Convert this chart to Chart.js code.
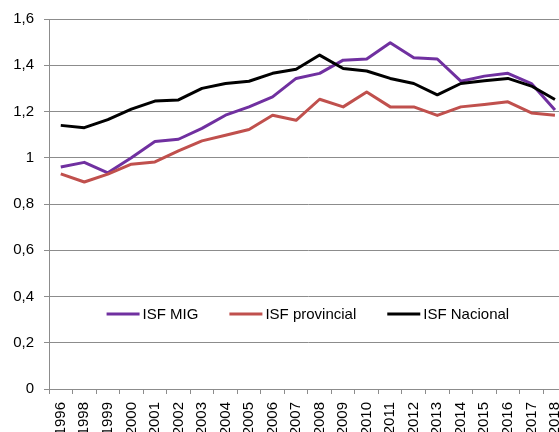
<!DOCTYPE html>
<html>
<head>
<meta charset="utf-8">
<script src="https://cdn.jsdelivr.net/npm/chart.js@4"></script>
<style>
  html, body { margin: 0; padding: 0; background: #fff; overflow: hidden; }
  #wrap { width: 581px; height: 440px; }
</style>
</head>
<body>
<div id="wrap"><canvas id="isf" width="581" height="440"></canvas></div>
<script>
// ISF series (1997 is missing in the source)
var years = ['1996', '1998', '1999', '2000', '2001', '2002', '2003', '2004', '2005', '2006', '2007',
             '2008', '2009', '2010', '2011', '2012', '2013', '2014', '2015', '2016', '2017', '2018'];
var isfMig = [0.96, 0.98, 0.935, 1.0, 1.07, 1.08, 1.127, 1.184, 1.22, 1.263, 1.343,
              1.365, 1.422, 1.427, 1.497, 1.432, 1.427, 1.331, 1.353, 1.365, 1.321, 1.206];
var isfProvincial = [0.93, 0.895, 0.929, 0.972, 0.982, 1.03, 1.073, 1.097, 1.122, 1.184, 1.162,
                     1.253, 1.22, 1.284, 1.22, 1.22, 1.183, 1.22, 1.23, 1.242, 1.194, 1.184];
var isfNacional = [1.14, 1.13, 1.165, 1.21, 1.245, 1.25, 1.30, 1.321, 1.331, 1.365, 1.383,
                   1.444, 1.386, 1.375, 1.343, 1.321, 1.272, 1.321, 1.333, 1.343, 1.31, 1.252];
var yTicks = [0, 0.2, 0.4, 0.6, 0.8, 1, 1.2, 1.4, 1.6];

var FONT = "'Liberation Sans', Arial, sans-serif";
var GRID = '#8c8c8c';

/* legend drawn inside the plot, one row, centred on the chart area */
var innerLegend = {
  id: 'innerLegend',
  afterDatasetsDraw: function (chart) {
    var ctx = chart.ctx, area = chart.chartArea;
    var sets = chart.data.datasets;
    var lineW = 33, gap = 3, spacing = 31;
    ctx.save();
    ctx.font = '15px ' + FONT;
    var widths = sets.map(function (ds) { return lineW + gap + ctx.measureText(ds.label).width; });
    var total = widths.reduce(function (a, b) { return a + b; }, 0) + spacing * (sets.length - 1);
    var x = (area.left + area.right) / 2 - total / 2;
    var y = area.bottom - 75;
    sets.forEach(function (ds, i) {
      ctx.strokeStyle = ds.borderColor;
      ctx.lineWidth = 3;
      ctx.beginPath();
      ctx.moveTo(x, y);
      ctx.lineTo(x + lineW, y);
      ctx.stroke();
      ctx.fillStyle = '#000';
      ctx.textBaseline = 'middle';
      ctx.textAlign = 'left';
      ctx.fillText(ds.label, x + lineW + gap, y + 1);
      x += widths[i] + spacing;
    });
    ctx.restore();
  }
};

new Chart(document.getElementById('isf').getContext('2d'), {
  type: 'line',
  data: {
    labels: years,
    datasets: [
      { label: 'ISF MIG', data: isfMig, borderColor: '#7030a0', order: 3 },
      { label: 'ISF provincial', data: isfProvincial, borderColor: '#c0504d', order: 2 },
      { label: 'ISF Nacional', data: isfNacional, borderColor: '#000000', order: 1 }
    ]
  },
  options: {
    responsive: false,
    animation: false,
    layout: { padding: { top: 14, right: 2, left: 0, bottom: 0 } },
    elements: {
      line: { borderWidth: 3, tension: 0, borderJoinStyle: 'round', borderCapStyle: 'butt', fill: false },
      point: { radius: 0, hoverRadius: 0 }
    },
    plugins: { legend: { display: false }, tooltip: { enabled: false } },
    scales: {
      x: {
        offset: true,
        grid: { display: true, drawOnChartArea: false, drawTicks: true, tickLength: 5, color: GRID, offset: true },
        border: { display: true, color: GRID, width: 1 },
        ticks: { color: '#000', font: { family: FONT, size: 15 }, minRotation: 90, maxRotation: 90, autoSkip: false, padding: 8 },
        afterFit: function (scale) { scale.height = 51; }
      },
      y: {
        min: 0,
        max: 1.6,
        afterBuildTicks: function (scale) { scale.ticks = yTicks.map(function (v) { return { value: v }; }); },
        grid: { color: GRID, lineWidth: 1, drawTicks: true, tickLength: 5 },
        border: { display: true, color: GRID, width: 1 },
        ticks: {
          color: '#000', font: { family: FONT, size: 15 }, padding: 10,
          callback: function (v) { return String(v).replace('.', ','); }
        },
        afterFit: function (scale) { scale.width = 49; }
      }
    }
  },
  plugins: [innerLegend]
});
</script>
</body>
</html>
